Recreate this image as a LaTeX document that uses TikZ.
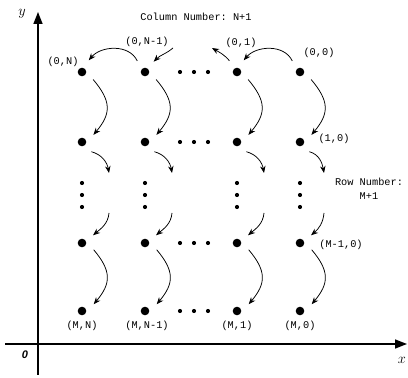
\documentclass[tikz,border=0pt]{standalone}
\usepackage{fontspec}
\setmonofont{Liberation Mono}
\newfontfamily\zerofont{Liberation Sans}
\usetikzlibrary{arrows.meta}
\begin{document}
\begin{tikzpicture}[x=1pt,y=1pt,
  dot/.style={circle,fill,inner sep=0pt,minimum size=8.6pt,outer sep=9.2pt},
  sdot/.style={circle,fill,inner sep=0pt,minimum size=4.2pt},
  lab/.style={font=\fontsize{10.3}{12}\selectfont\ttfamily,inner sep=0pt},
  arr/.style={-{Stealth[length=7pt,width=5.5pt]},line width=0.75pt},
  axisline/.style={-{Triangle[length=12pt,width=9pt]},line width=1.5pt}]
\useasboundingbox (0,0) rectangle (408,378);

% axes
\coordinate (yb) at (38,3);
\coordinate (yt) at (38,366);
\coordinate (xl) at (5,34);
\coordinate (xr) at (407,34);
\draw[axisline] (yb) -- (yt);
\draw[axisline] (xl) -- (xr);
\node[font=\fontsize{15}{15}\selectfont] (ylab) at (22,364) {$y$};
\node[font=\fontsize{15}{15}\selectfont] (xlab) at (402,18) {$x$};
\node[font=\fontsize{11}{11}\selectfont\zerofont\bfseries\itshape] (olab) at (25,23) {0};

% dots
\foreach \x [count=\i] in {82,145,237,300} {
  \node[dot] (d1\i) at (\x,306) {};
  \node[dot] (d2\i) at (\x,236) {};
  \node[dot] (d4\i) at (\x,135) {};
  \node[dot] (d5\i) at (\x,67) {};
  \foreach \y [count=\k] in {195,183,171} {
    \node[sdot] (v\i\k) at (\x,\y) {};
  }
}
\foreach \y [count=\r] in {306,236,135,67} {
  \foreach \x [count=\k] in {180,194,208} {
    \node[sdot] (h\r\k) at (\x,\y) {};
  }
}

% labels
\node[lab] (colnum) at (196,361) {Column Number: N+1};
\node[lab] (l11) at (63,316) {(0,N)};
\node[lab] (l12) at (147,336) {(0,N-1)};
\node[lab] (l13) at (241,335) {(0,1)};
\node[lab] (l14) at (319,325) {(0,0)};
\node[lab] (l24) at (334,239) {(1,0)};
\node[lab] (rownum) at (369,196) {Row Number:};
\node[lab] (rownum2) at (369,182) {M+1};
\node[lab] (l44) at (341,133) {(M-1,0)};
\node[lab] (l51) at (82,52) {(M,N)};
\node[lab] (l52) at (147,52) {(M,N-1)};
\node[lab] (l53) at (237,52) {(M,1)};
\node[lab] (l54) at (300,52) {(M,0)};

% top row arrows
\draw[arr] (d12.125) to[out=115,in=50,looseness=1] (d11.60);
\draw[arr] (d14.125) to[out=115,in=50,looseness=1] (d13.60);
\coordinate (s12) at (173,330);
\draw[arr] (s12) to[out=-140,in=45] (d12.50);
\coordinate (e13) at (212,330);
\draw[arr] (d13.124) to[out=130,in=-30] (e13);

% vertical arrows
\foreach \i in {1,2,3,4} {
  \draw[arr] (d1\i.-34) to[out=-50,in=50,looseness=1.3] (d2\i.32);
  \draw[arr] (d4\i.-30) to[out=-50,in=50,looseness=1.3] (d5\i.30);
}

% row 2 outgoing and row 4 incoming arrows
\foreach \x/\dx [count=\i] in {82/27,145/27,237/27,300/24} {
  \coordinate (e2\i) at (\x+\dx,205);
  \draw[arr] (d2\i.-46) to[out=-15,in=100] (e2\i);
  \coordinate (s4\i) at (\x+\dx,165);
  \draw[arr] (s4\i) to[out=-95,in=40] (d4\i.35);
}
\end{tikzpicture}
\end{document}
